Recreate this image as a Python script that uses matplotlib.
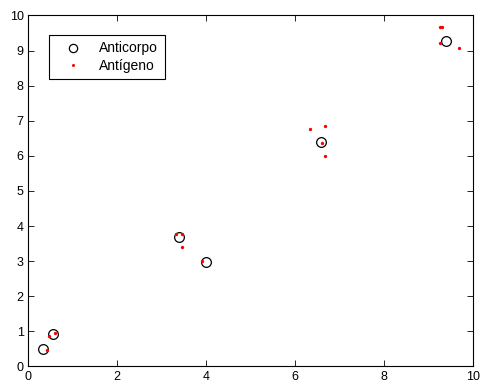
import matplotlib
matplotlib.use("Agg")
import matplotlib.pyplot as plt

# Anticorpo (circles)
anticorpo_x = [0.34, 0.57, 3.39, 4.00, 6.59, 9.39]
anticorpo_y = [0.49, 0.92, 3.70, 2.97, 6.39, 9.27]

# Antigeno (red dots)
antigeno_x = [0.43, 0.47, 0.61, 3.33, 3.47, 3.47, 3.92, 6.35, 6.67, 6.61, 6.68, 9.26, 9.30, 9.27, 9.70]
antigeno_y = [0.47, 0.87, 0.95, 3.77, 3.77, 3.41, 3.00, 6.77, 6.84, 6.38, 6.00, 9.67, 9.67, 9.22, 9.06]

plt.rcParams["font.family"] = ["Liberation Sans", "DejaVu Sans"]
plt.rcParams["font.size"] = 9

fig = plt.figure(figsize=(4.8, 3.87), dpi=100)
ax = fig.add_axes([0.058, 0.053, 0.927, 0.907])

ax.plot(anticorpo_x, anticorpo_y, "o", mfc="none", mec="black", mew=0.9, ms=7, label="Anticorpo")
ax.plot(antigeno_x, antigeno_y, ".", color="red", ms=2.8, label="Antígeno")

ax.set_xlim(0, 10)
ax.set_ylim(0, 10)
ax.set_xticks([0, 2, 4, 6, 8, 10])
ax.set_yticks(range(11))
ax.tick_params(direction="in", top=True, right=True, length=4, width=0.6, pad=3)
for s in ax.spines.values():
    s.set_linewidth(0.8)

leg = ax.legend(loc="upper left", bbox_to_anchor=(0.047, 0.944), fancybox=False,
                edgecolor="black", framealpha=1, borderaxespad=0, handletextpad=0.6,
                borderpad=0.45, labelspacing=0.25, handlelength=2.6, fontsize=10,
                markerscale=0.85)
leg.get_frame().set_linewidth(0.8)

fig.savefig("out.png", dpi=100)
